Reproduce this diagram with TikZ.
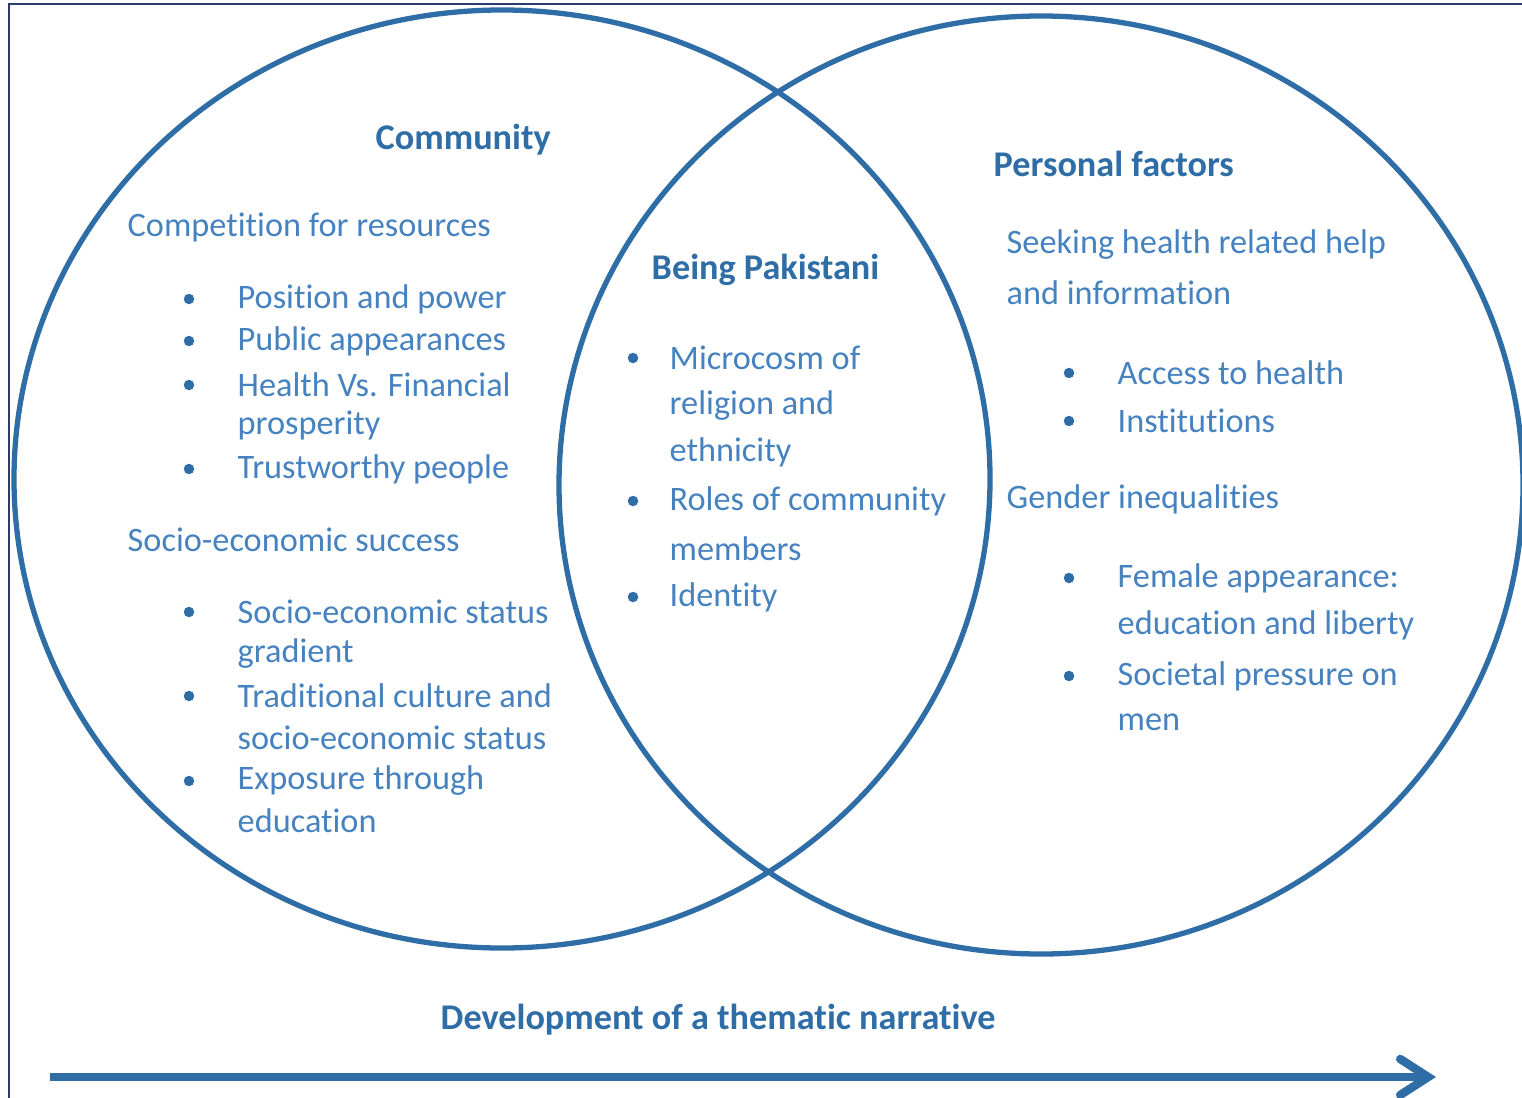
\documentclass[tikz,border=0pt]{standalone}
\usepackage{fontspec}
\setmainfont{Carlito}[Ligatures=CommonOff]
\usetikzlibrary{arrows.meta}
\definecolor{venn}{HTML}{2E6DA6}
\definecolor{venntext}{HTML}{4682C0}
\definecolor{frameblue}{HTML}{2A3C6E}

\begin{document}
\begin{tikzpicture}[x=0.01cm, y=-0.01cm,
		head/.style={anchor=west, inner sep=0, text=venn, font=\fontsize{10.3}{12}\selectfont\bfseries},
		item/.style={anchor=west, inner sep=0, text=venntext, font=\fontsize{9.75}{12}\selectfont},
		dot/.style={circle, fill=venn, inner sep=0, minimum size=0.105cm}]
		\useasboundingbox (0,0) rectangle (1522,1097);
		\clip (0,0) rectangle (1522,1097);
		\draw[frameblue, line width=0.5pt] (9,1120) -- (9,4) -- (1540,4);

		\draw[venn, line width=1.5pt] (502,479) ellipse (488 and 469);
		\draw[venn, line width=1.5pt] (1041,485) ellipse (482 and 469);

		% community
		\node[head] at (375,140) (community) {Community};
		\node[item] at (127,227) (compet) {Competition for resources};
		\node[dot] at (189,299) (d1) {};
		\node[item] at (237,299) (position) {Position and power};
		\node[dot] at (189,341) (d2) {};
		\node[item] at (237,341) (public) {Public appearances};
		\node[dot] at (189,385) (d3) {};
		\node[item] at (237,385) (health) {Health Vs. Financial};
		\node[item] at (237,425) (prosper) {prosperity};
		\node[dot] at (189,469) (d4) {};
		\node[item] at (237,469) (trust) {Trustworthy people};
		\node[item] at (127,540) (socio) {Socio-economic success};
		\node[dot] at (189,612) (d5) {};
		\node[item] at (237,612) (status) {Socio-economic status};
		\node[item] at (237,654) (gradient) {gradient};
		\node[dot] at (189,696) (d6) {};
		\node[item] at (237,696) (tradition) {Traditional culture and};
		\node[item] at (237,738) (tradstatus) {socio-economic status};
		\node[dot] at (189,781) (d7) {};
		\node[item] at (237,781) (exposure) {Exposure through};
		\node[item] at (237,821) (education) {education};

		% being pakistani
		\node[head] at (651,270) (pakistani) {Being Pakistani};
		\node[dot] at (633,358) (c1) {};
		\node[item] at (669,358) (micro) {Microcosm of};
		\node[item] at (669,406) (religion) {religion and};
		\node[item] at (669,452) (ethnic) {ethnicity};
		\node[dot] at (633,501) (c2) {};
		\node[item] at (669,501) (roles) {Roles of community};
		\node[item] at (669,549) (members) {members};
		\node[dot] at (633,597) (c3) {};
		\node[item] at (669,597) (identity) {Identity};

		% personal factors
		\node[head] at (993,164) (personal) {Personal factors};
		\node[item] at (1006,245) (seeking) {Seeking health related help};
		\node[item] at (1006,293) (info) {and information};
		\node[dot] at (1069,373) (p1) {};
		\node[item] at (1117,373) (access) {Access to health};
		\node[dot] at (1069,421) (p2) {};
		\node[item] at (1117,421) (institut) {Institutions};
		\node[item] at (1006,499) (gender) {Gender inequalities};
		\node[dot] at (1069,578) (p3) {};
		\node[item] at (1117,578) (female) {Female appearance:};
		\node[item] at (1117,625) (liberty) {education and liberty};
		\node[dot] at (1069,676) (p4) {};
		\node[item] at (1117,676) (pressure) {Societal pressure on};
		\node[item] at (1117,722) (men) {men};
%		\node[item] at (1117,770) {};

		\node[head] at (440,1020) (narrative) {Development of a thematic narrative};
		\coordinate (start) at (50,1077);
		\coordinate (end) at (1436,1077);
		\draw[venn, line width=2.4pt, -{Straight Barb[length=0.28cm, width=0.36cm, line cap=round]}]
			(start) -- (end);
\end{tikzpicture}
\end{document}
